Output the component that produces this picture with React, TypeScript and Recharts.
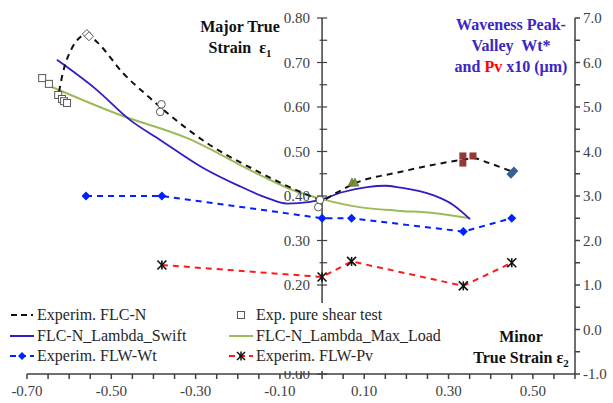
import React from "react";
import {
  ComposedChart,
  Line,
  Scatter,
  XAxis,
  YAxis,
  ReferenceLine,
  ReferenceDot,
} from "recharts";

// ---------------------------------------------------------------------------
// Data (minor strain e2 on x, major strain e1 on left axis, Wt / Pv x10 on right)
// ---------------------------------------------------------------------------

const FLC_N_EXP = [
  { x: -0.624, y: 0.634 },
  { x: -0.615, y: 0.676 },
  { x: -0.593, y: 0.733 },
  { x: -0.574, y: 0.757 },
  { x: -0.558, y: 0.764 },
  { x: -0.534, y: 0.746 },
  { x: -0.472, y: 0.676 },
  { x: -0.408, y: 0.62 },
  { x: -0.368, y: 0.587 },
  { x: -0.273, y: 0.519 },
  { x: -0.154, y: 0.456 },
  { x: -0.04, y: 0.405 },
  { x: 0.0, y: 0.391 },
  { x: 0.03, y: 0.405 },
  { x: 0.074, y: 0.427 },
  { x: 0.185, y: 0.454 },
  { x: 0.33, y: 0.481 },
  { x: 0.36, y: 0.485 },
  { x: 0.39, y: 0.476 },
  { x: 0.453, y: 0.454 },
];

const FLC_SWIFT = [
  { x: -0.629, y: 0.706 },
  { x: -0.534, y: 0.638 },
  { x: -0.456, y: 0.571 },
  { x: -0.384, y: 0.526 },
  { x: -0.282, y: 0.463 },
  { x: -0.2, y: 0.424 },
  { x: -0.131, y: 0.396 },
  { x: -0.083, y: 0.383 },
  { x: -0.028, y: 0.387 },
  { x: 0.0, y: 0.393 },
  { x: 0.05, y: 0.409 },
  { x: 0.107, y: 0.42 },
  { x: 0.15, y: 0.423 },
  { x: 0.185, y: 0.419 },
  { x: 0.263, y: 0.402 },
  { x: 0.311, y: 0.38 },
  { x: 0.351, y: 0.348 },
];

const FLC_MAX_LOAD = [
  { x: -0.641, y: 0.645 },
  { x: -0.479, y: 0.582 },
  { x: -0.32, y: 0.53 },
  { x: -0.147, y: 0.447 },
  { x: -0.069, y: 0.413 },
  { x: 0.0, y: 0.393 },
  { x: 0.088, y: 0.375 },
  { x: 0.178, y: 0.367 },
  { x: 0.263, y: 0.362 },
  { x: 0.351, y: 0.35 },
];

const FLW_WT = [
  { x: -0.56, y: 3.0 },
  { x: -0.38, y: 3.0 },
  { x: 0.0, y: 2.5 },
  { x: 0.07, y: 2.5 },
  { x: 0.335, y: 2.2 },
  { x: 0.45, y: 2.5 },
];

const FLW_PV = [
  { x: -0.38, y: 1.45 },
  { x: 0.0, y: 1.18 },
  { x: 0.07, y: 1.53 },
  { x: 0.335, y: 0.98 },
  { x: 0.45, y: 1.5 },
];

// experimental test points (not in legend)
const PURE_SHEAR = [
  { x: -0.664, y: 0.665 },
  { x: -0.648, y: 0.652 },
  { x: -0.626, y: 0.627 },
  { x: -0.617, y: 0.618 },
  { x: -0.612, y: 0.613 },
  { x: -0.605, y: 0.609 },
];
const OPEN_DIAMONDS = [
  { x: -0.558, y: 0.764 },
  { x: -0.553, y: 0.759 },
];
const OPEN_CIRCLES = [
  { x: -0.381, y: 0.606 },
  { x: -0.384, y: 0.589 },
  { x: -0.005, y: 0.391 },
  { x: -0.009, y: 0.375 },
];
const GREEN_TRIANGLES = [
  { x: 0.071, y: 0.429 },
  { x: 0.078, y: 0.429 },
];
const RED_SQUARES = [
  { x: 0.334, y: 0.49 },
  { x: 0.334, y: 0.474 },
  { x: 0.358, y: 0.49 },
];
const BLUE_DIAMONDS = [
  { x: 0.448, y: 0.449 },
  { x: 0.455, y: 0.456 },
];

const X_TICKS = [
  -0.7, -0.65, -0.6, -0.55, -0.5, -0.45, -0.4, -0.35, -0.3, -0.25, -0.2, -0.15,
  -0.1, -0.05, 0, 0.05, 0.1, 0.15, 0.2, 0.25, 0.3, 0.35, 0.4, 0.45, 0.5, 0.55, 0.6,
];
const X_LABELS = [-0.7, -0.5, -0.3, -0.1, 0.1, 0.3, 0.5];
const LEFT_TICKS = [
  0, 0.05, 0.1, 0.15, 0.2, 0.25, 0.3, 0.35, 0.4, 0.45, 0.5, 0.55, 0.6, 0.65, 0.7,
  0.75, 0.8,
];
// 0.10 sits behind the legend box in the original, so it is not drawn
const LEFT_LABELS = [0, 0.2, 0.3, 0.4, 0.5, 0.6, 0.7, 0.8];
const RIGHT_TICKS = [
  -1, -0.5, 0, 0.5, 1, 1.5, 2, 2.5, 3, 3.5, 4, 4.5, 5, 5.5, 6, 6.5, 7,
];

const LEGEND_ITEMS = [
  { name: "Experim. FLC-N", icon: "blackDash" },
  { name: "Exp. pure shear test", icon: "square" },
  { name: "FLC-N_Lambda_Swift", icon: "swift" },
  { name: "FLC-N_Lambda_Max_Load", icon: "green" },
  { name: "Experim. FLW-Wt", icon: "wt" },
  { name: "Experim. FLW-Pv", icon: "pv" },
];

// ---------------------------------------------------------------------------
// Styling
// ---------------------------------------------------------------------------

const W = 613;
const H = 403;
const FONT = "Liberation Serif, serif";
const AXIS = "#404040";
const TICK = { fill: AXIS, fontSize: 15, fontFamily: FONT };
const SWIFT = "#2e1ec4";
const GREEN = "#9bbb59";
const WT_BLUE = "#0022ff";
const PV_RED = "#ff1a1a";
const TITLE_BLUE = "#3a26c4";

const isLabel = (v: number, list: number[]) =>
  list.some((l) => Math.abs(l - v) < 1e-6);

// ---------------------------------------------------------------------------
// Marker shapes
// ---------------------------------------------------------------------------

function diamondPath(cx: number, cy: number, r: number) {
  return `M${cx},${cy - r}L${cx + r},${cy}L${cx},${cy + r}L${cx - r},${cy}Z`;
}

const WtDot = (p: any) => {
  if (p.cx == null) return <g key={p.index} />;
  return <path key={p.index} d={diamondPath(p.cx, p.cy, 4.5)} fill={WT_BLUE} />;
};

const PvDot = (p: any) => {
  if (p.cx == null) return <g key={p.index} />;
  const r = 4.5;
  return (
    <g key={p.index} stroke="#111" strokeWidth={1.6}>
      <line x1={p.cx - r} y1={p.cy - r} x2={p.cx + r} y2={p.cy + r} />
      <line x1={p.cx - r} y1={p.cy + r} x2={p.cx + r} y2={p.cy - r} />
      <line x1={p.cx} y1={p.cy - r} x2={p.cx} y2={p.cy + r} />
    </g>
  );
};

const OpenSquare = (p: any) => (
  <rect x={p.cx - 3.5} y={p.cy - 3.5} width={7} height={7} fill="#fff" stroke="#595959" strokeWidth={1} />
);
const OpenDiamond = (p: any) => (
  <path d={diamondPath(p.cx, p.cy, 4.5)} fill="#fff" stroke="#595959" strokeWidth={1} />
);
const OpenCircle = (p: any) => (
  <circle cx={p.cx} cy={p.cy} r={3.8} fill="#fff" stroke="#595959" strokeWidth={1} />
);
const GreenTriangle = (p: any) => (
  <path d={`M${p.cx},${p.cy - 5}L${p.cx + 4},${p.cy + 3}L${p.cx - 4},${p.cy + 3}Z`} fill="#77933c" stroke="#4f6228" strokeWidth={0.6} />
);
const RedSquare = (p: any) => (
  <rect x={p.cx - 3.5} y={p.cy - 3.5} width={7} height={7} fill="#953735" />
);
const BlueDiamond = (p: any) => (
  <path d={diamondPath(p.cx, p.cy, 4.5)} fill="#376092" />
);

function LegendIcon({ kind }: { kind: string }) {
  return (
    <svg width={24} height={12} style={{ marginRight: 3, flex: "none" }}>
      {kind === "blackDash" && (
        <line x1={1} y1={6} x2={23} y2={6} stroke="#111" strokeWidth={2} strokeDasharray="6 4" />
      )}
      {kind === "square" && (
        <rect x={8.5} y={2.5} width={7} height={7} fill="#fff" stroke="#595959" />
      )}
      {kind === "swift" && <line x1={0} y1={6} x2={24} y2={6} stroke={SWIFT} strokeWidth={2} />}
      {kind === "green" && <line x1={0} y1={6} x2={24} y2={6} stroke={GREEN} strokeWidth={2} />}
      {kind === "wt" && (
        <g>
          <line x1={0} y1={6} x2={24} y2={6} stroke={WT_BLUE} strokeWidth={2} strokeDasharray="6 4" />
          <path d={diamondPath(12, 6, 4)} fill={WT_BLUE} />
        </g>
      )}
      {kind === "pv" && (
        <g>
          <line x1={0} y1={6} x2={24} y2={6} stroke={PV_RED} strokeWidth={2} strokeDasharray="6 4" />
          <g stroke="#111" strokeWidth={1.5}>
            <line x1={8} y1={2} x2={16} y2={10} />
            <line x1={8} y1={10} x2={16} y2={2} />
            <line x1={12} y1={1.5} x2={12} y2={10.5} />
          </g>
        </g>
      )}
    </svg>
  );
}

const abs = (left: number, top: number, extra: React.CSSProperties = {}): React.CSSProperties => ({
  position: "absolute",
  left,
  top,
  fontFamily: FONT,
  fontWeight: "bold",
  fontSize: 16,
  lineHeight: "21px",
  whiteSpace: "nowrap",
  ...extra,
});

export default function App() {
  return (
    <div style={{ position: "absolute", left: 0, top: 0, width: W, height: H, background: "#fff" }}>
      <ComposedChart width={W} height={H} margin={{ top: 18, right: 0, left: 27, bottom: 5 }}>
        <XAxis
          dataKey="x"
          type="number"
          domain={[-0.7, 0.6]}
          ticks={X_TICKS}
          allowDataOverflow
          tickFormatter={(v: number) => (isLabel(v, X_LABELS) ? v.toFixed(2) : "")}
          tick={TICK}
          tickSize={5}
          tickMargin={6}
          height={24}
          stroke={AXIS}
          strokeWidth={1.5}
          interval={0}
        />
        <YAxis yAxisId="left" hide domain={[0, 0.8]} type="number" allowDataOverflow />
        <YAxis
          yAxisId="right"
          orientation="right"
          type="number"
          domain={[-1, 7]}
          ticks={RIGHT_TICKS}
          interval={0}
          tickFormatter={(v: number) => (Number.isInteger(v) ? v.toFixed(1) : "")}
          tick={TICK}
          tickSize={5}
          tickMargin={3}
          width={38}
          stroke={AXIS}
          strokeWidth={1.5}
        />

        {/* left axis drawn at e2 = 0 */}
        <ReferenceLine yAxisId="left" x={0} stroke={AXIS} strokeWidth={1.5} />
        {LEFT_TICKS.map((v) => (
          <ReferenceLine
            key={`lt${v}`}
            yAxisId="left"
            stroke={AXIS}
            strokeWidth={1.2}
            segment={[
              { x: v * 10 === Math.round(v * 10) ? -0.012 : -0.006, y: v },
              { x: 0.012, y: v },
            ]}
          />
        ))}
        {LEFT_LABELS.map((v) => (
          <ReferenceDot
            key={`ll${v}`}
            yAxisId="left"
            x={0}
            y={v}
            r={0}
            stroke="none"
            fill="none"
            label={{ value: v.toFixed(2), position: "left", offset: 12, fill: AXIS, fontSize: 15, fontFamily: FONT }}
          />
        ))}

        <Line
          yAxisId="left"
          data={FLC_MAX_LOAD}
          dataKey="y"
          type="monotone"
          stroke={GREEN}
          strokeWidth={2}
          dot={false}
          isAnimationActive={false}
        />
        <Line
          yAxisId="left"
          data={FLC_SWIFT}
          dataKey="y"
          type="monotone"
          stroke={SWIFT}
          strokeWidth={1.8}
          dot={false}
          isAnimationActive={false}
        />
        <Line
          yAxisId="left"
          data={FLC_N_EXP}
          dataKey="y"
          type="monotone"
          stroke="#111"
          strokeWidth={2}
          strokeDasharray="6 5"
          dot={false}
          isAnimationActive={false}
        />
        <Line
          yAxisId="right"
          data={FLW_WT}
          dataKey="y"
          type="linear"
          stroke={WT_BLUE}
          strokeWidth={2}
          strokeDasharray="6 5"
          dot={WtDot}
          isAnimationActive={false}
        />
        <Line
          yAxisId="right"
          data={FLW_PV}
          dataKey="y"
          type="linear"
          stroke={PV_RED}
          strokeWidth={2}
          strokeDasharray="6 5"
          dot={PvDot}
          isAnimationActive={false}
        />

        <Scatter yAxisId="left" data={PURE_SHEAR} dataKey="y" shape={OpenSquare} legendType="none" isAnimationActive={false} />
        <Scatter yAxisId="left" data={OPEN_DIAMONDS} dataKey="y" shape={OpenDiamond} legendType="none" isAnimationActive={false} />
        <Scatter yAxisId="left" data={OPEN_CIRCLES} dataKey="y" shape={OpenCircle} legendType="none" isAnimationActive={false} />
        <Scatter yAxisId="left" data={GREEN_TRIANGLES} dataKey="y" shape={GreenTriangle} legendType="none" isAnimationActive={false} />
        <Scatter yAxisId="left" data={RED_SQUARES} dataKey="y" shape={RedSquare} legendType="none" isAnimationActive={false} />
        <Scatter yAxisId="left" data={BLUE_DIAMONDS} dataKey="y" shape={BlueDiamond} legendType="none" isAnimationActive={false} />
      </ComposedChart>

      {/* axis titles */}
      <div style={abs(200, 16, { textAlign: "center", width: 80, color: "#111" })}>
        Major True
        <br />
        Strain&nbsp; ε<sub style={{ fontSize: 11 }}>1</sub>
      </div>
      <div style={abs(452, 14, { textAlign: "center", width: 118, color: TITLE_BLUE })}>
        Waveness Peak-
        <br />
        Valley&nbsp; Wt*
        <br />
        and <span style={{ color: "#ff0000" }}>Pv</span> x10 (µm)
      </div>
      <div style={abs(470, 326, { textAlign: "center", width: 102, color: "#111" })}>
        Minor
        <br />
        True Strain ε<sub style={{ fontSize: 11 }}>2</sub>
      </div>

      {/* legend: white box over the plot, hiding the axis behind it */}
      <div
        style={{
          position: "absolute",
          left: 8,
          top: 303,
          width: 462,
          height: 68,
          boxSizing: "border-box",
          padding: "2px 0 0 2px",
          background: "#fff",
          display: "grid",
          gridTemplateColumns: "219px 240px",
          gridAutoRows: "20.5px",
          fontFamily: FONT,
          fontSize: 16,
          lineHeight: "20.5px",
          color: "#262626",
        }}
      >
        {LEGEND_ITEMS.map((it) => (
          <div key={it.name} style={{ display: "flex", alignItems: "center", whiteSpace: "nowrap" }}>
            <LegendIcon kind={it.icon} />
            {it.name}
          </div>
        ))}
      </div>
    </div>
  );
}
